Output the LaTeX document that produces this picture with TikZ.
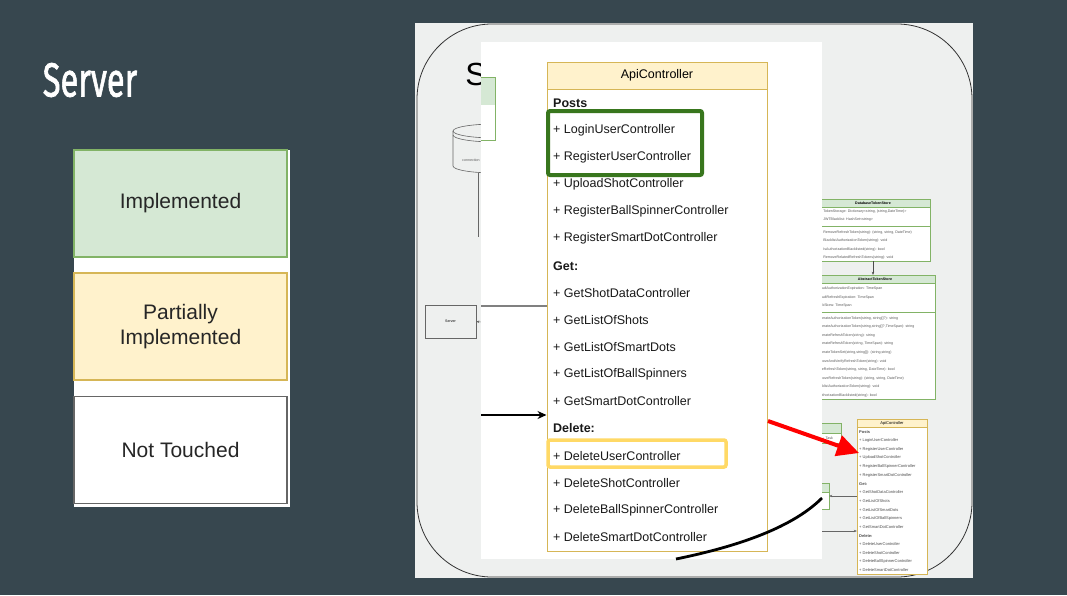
\documentclass[tikz,border=0pt]{standalone}
\usepackage{fontspec}
\setmainfont{Liberation Sans}
\newfontfamily\titlefont{Fira Sans}[FakeBold=1.6]
\usetikzlibrary{arrows.meta}

\definecolor{slide}{RGB}{55,71,79}
\definecolor{shot}{RGB}{238,240,239}
\definecolor{implfill}{HTML}{D5E8D4}
\definecolor{impldraw}{HTML}{82B366}
\definecolor{partfill}{HTML}{FFF2CC}
\definecolor{partdraw}{HTML}{D6B656}
\definecolor{hlgreen}{HTML}{38761D}
\definecolor{hlyellow}{HTML}{FFD966}

\newcommand{\apirows}{\textbf{Posts}, + LoginUserController, + RegisterUserController,
  + UploadShotController, + RegisterBallSpinnerController, + RegisterSmartDotController,
  \textbf{Get:}, + GetShotDataController, + GetListOfShots, + GetListOfSmartDots,
  + GetListOfBallSpinners, + GetSmartDotController, \textbf{Delete:},
  + DeleteUserController, + DeleteShotController, + DeleteBallSpinnerController,
  + DeleteSmartDotController}

\begin{document}
\begin{tikzpicture}[x=1pt, y=-1pt,
    leg/.style={minimum width=213, minimum height=107, inner sep=0, line width=1.5,
      align=center, text=black!85, font=\fontsize{21}{25}\selectfont},
    row/.style={anchor=west, inner sep=0, text=black!90, font=\fontsize{12.5}{14}\selectfont},
    srow/.style={anchor=west, inner sep=0, text=black!70, font=\fontsize{4}{5}\selectfont},
    tiny/.style={anchor=west, inner sep=0, text=black!65, font=\fontsize{3.6}{4}\selectfont},
    cls/.style={draw=impldraw, fill=white, inner sep=0},
    head/.style={anchor=north, inner sep=0, minimum height=8, font=\fontsize{3.6}{4}\selectfont\bfseries}]
  %slide and title
  \fill[slide] (0,0) rectangle (1067,595);
  \node[text=white, xscale=0.68, font=\titlefont\fontsize{48}{55}\selectfont] (title) at (90,80) {Server};

  %legend
  \fill[white] (74,150) rectangle (290,507);
  \node[leg, fill=implfill, draw=impldraw] (impl) at (180.5,203.5) {Implemented};
  \node[leg, fill=partfill, draw=partdraw] (part) at (180.5,326.5) {Partially\\Implemented};
  \node[leg, fill=white, draw=black!60] (none) at (180.5,450) {Not Touched};

  %screenshot behind
  \fill[shot] (415,23) rectangle (973,578);
  \draw[black!80, line width=0.8, rounded corners=75] (417,24) rectangle (972,577);
  \node[font=\fontsize{32}{36}\selectfont] (bigS) at (476,74) {S};
  \draw[black!60, line width=0.6] (453,131) -- (453,166) arc[start angle=180, end angle=0, x radius=42, y radius=7] -- (537,131);
  \draw[black!60, line width=0.6] (495,131) ellipse[x radius=42, y radius=7];
  \draw[black!60, line width=0.6] (453,135) arc[start angle=180, end angle=0, x radius=42, y radius=7];
  \node[tiny] (conn) at (462,160) {connection};
  \draw[black!60, line width=0.6] (478,173) -- (478,237);
  \node[draw=black!60, line width=0.6, minimum width=51, minimum height=33, inner sep=0,
    font=\fontsize{3.6}{4}\selectfont] (srv) at (450.5,321.5) {Server};
  \coordinate (srvin) at (481,322);
  \draw[black!60, -{Stealth[length=3pt,width=2.5pt]}] (srvin) -- (srv.east);

  \node[cls, minimum width=114, minimum height=62] (dts) at (873,230) {};
  \node[cls, head, fill=implfill, minimum width=114] (dtsh) at (dts.north) {DatabaseTokenStore};
  \foreach \lbl [count=\i] in {{+ TokenStorage: Dictionary<string, (string,DateTime)>},
      {+ JWTBlacklist: HashSet<string>}}
    \node[tiny] (d\i) at (820,{203+8.5*\i}) {\lbl};
  \draw[impldraw, line width=0.5] (816,226) -- (930,226);
  \foreach \lbl [count=\i] in {{+ RemoveRefreshToken(string): (string, string, DateTime)},
      {+ BlacklistAuthorizationToken(string): void}, {+ IsAuthorizationBlacklisted(string): bool},
      {+ RemoveRelatedRefreshTokens(string): void}}
    \node[tiny] (dm\i) at (820,{223.5+8.6*\i}) {\lbl};

  \node[cls, minimum width=120, minimum height=124] (ats) at (875,337) {};
  \node[cls, head, fill=implfill, minimum width=120] (atsh) at (ats.north) {AbstractTokenStore};
  \draw[black!70, -{Stealth[length=3pt,width=2.5pt]}] (dts.south) -- (dts.south |- ats.north);
  \foreach \lbl [count=\i] in {{+ DefaultAuthorizationExpiration: TimeSpan},
      {+ DefaultRefreshExpiration: TimeSpan}, {+ ClockSkew: TimeSpan}}
    \node[tiny] (a\i) at (812,{280.5+8.5*\i}) {\lbl};
  \draw[impldraw, line width=0.5] (815,312) -- (935,312);
  \foreach \lbl [count=\i] in {{+ GenerateAuthorizationToken(string, string[]?): string},
      {+ GenerateAuthorizationToken(string,string[]?,TimeSpan): string},
      {+ GenerateRefreshToken(string): string}, {+ GenerateRefreshToken(string, TimeSpan): string},
      {+ GenerateTokenSet(string,string[]): (string,string)}, {+ RemoveAndVerifyRefreshToken(string): void},
      {+ StoreRefreshToken(string, string, DateTime): bool},
      {+ RemoveRefreshToken(string): (string, string, DateTime)},
      {+ BlacklistAuthorizationToken(string): void}, {+ IsAuthorizationBlacklisted(string): bool}}
    \node[tiny] (am\i) at (812,{309.5+8.6*\i}) {\lbl};

  \node[cls, minimum width=51, minimum height=20] (task) at (815.5,433) {};
  \node[cls, head, fill=implfill, minimum width=51, minimum height=10] (taskh) at (task.north) {};
  \node[tiny] (tasktxt) at (823,438) {: Task};
  \node[cls, minimum width=49, minimum height=26] (gb) at (804.5,496) {};
  \node[cls, head, fill=implfill, minimum width=49, minimum height=9] (gbh) at (gb.north) {};

  \node[draw=partdraw, fill=white, minimum width=70, minimum height=155, inner sep=0] (sapi) at (892,496.5) {};
  \node[draw=partdraw, fill=partfill, anchor=north, minimum width=70, minimum height=8, inner sep=0,
    font=\fontsize{4}{5}\selectfont] (sapih) at (sapi.north) {ApiController};
  \foreach \lbl [count=\i] in \apirows
    \node[srow] (s\i) at (859,{432+8.63*(\i-1)}) {\lbl};
  \draw[black!60, -{Stealth[length=3pt,width=2.5pt]}] (sapi.west |- gb.east) -- (gb.east);
  \coordinate (low) at (800,531);
  \draw[black!60, -{Stealth[length=3pt,width=2.5pt]}] (low) -- (low -| sapi.west);

  %white cut-out with the big class box
  \fill[white] (481,42) rectangle (822,559);
  \fill[implfill] (481,77) rectangle (495,105);
  \draw[impldraw, line width=0.8] (481,77) -| (495,140) -- (481,140);
  \node[draw=partdraw, fill=white, line width=1, minimum width=220, minimum height=489, inner sep=0] (api) at (657,306.5) {};
  \node[draw=partdraw, fill=partfill, line width=1, anchor=north, minimum width=220, minimum height=27,
    inner sep=0, font=\fontsize{12.5}{14}\selectfont] (apih) at (api.north) {ApiController};
  \foreach \lbl [count=\i] in \apirows
    \node[row] (r\i) at (553,{103+27.125*(\i-1)}) {\lbl};

  \coordinate (gl) at (481,306);
  \draw[black!50, line width=1.2] (gl) -- (gl -| api.west);
  \coordinate (bl) at (481,415);
  \draw[line width=1.3, -{Stealth[length=9pt,width=8pt]}] (bl) -- (bl -| api.west);

  %highlights
  \draw[hlgreen, line width=4, rounded corners=2] (548,111) rectangle (702,175);
  \draw[hlyellow, line width=3.5, rounded corners=2] (548,440) rectangle (726,467);

  \coordinate (cv1) at (676,559);
  \coordinate (cv2) at (822,498);
  \draw[line width=2.8] (cv1) .. controls (730,548) and (790,530) .. (cv2);

  \coordinate (rs) at (768,421);
  \coordinate (rt) at (859,453);
  \draw[red, line width=4, -{Triangle[length=22pt,width=21pt]}] (rs) -- (rt);
\end{tikzpicture}
\end{document}
